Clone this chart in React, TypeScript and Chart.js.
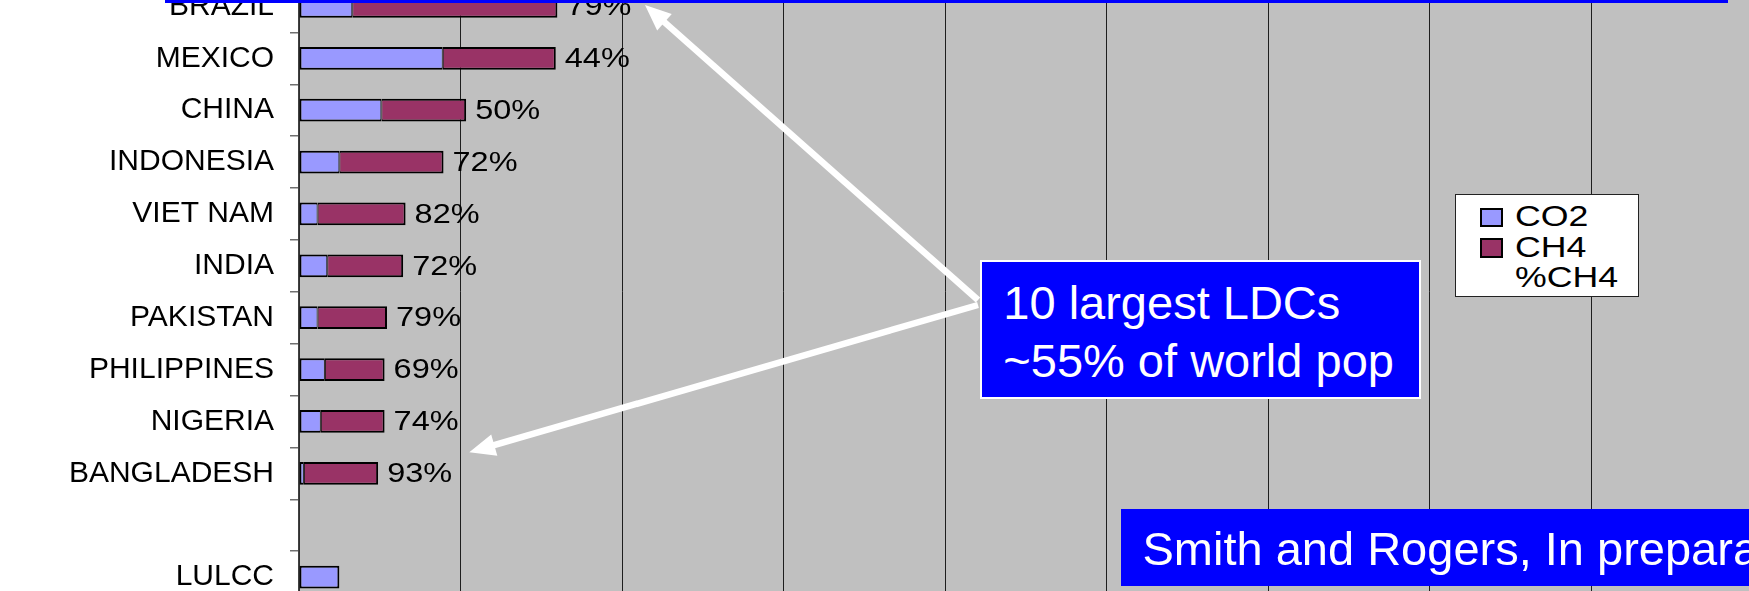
import React, { useEffect, useRef } from 'react';
import { Chart, registerables } from 'chart.js';

Chart.register(...registerables);

// ---- data ----
const categories = ['BRAZIL', 'MEXICO', 'CHINA', 'INDONESIA', 'VIET NAM', 'INDIA', 'PAKISTAN', 'PHILIPPINES', 'NIGERIA', 'BANGLADESH', '', 'LULCC'];
const co2Values = [33, 89, 51, 25, 11.5, 17.5, 11.5, 16, 13.5, 3, null, 25];
const ch4Values = [127, 70, 52.5, 64.5, 54.5, 47, 43, 37, 39.5, 46, null, null];
const pctCH4 = [79, 44, 50, 72, 82, 72, 79, 69, 74, 93, null, null];
const xMin = 0;
const xMax = 900;
const xStep = 100;

const FONT = '"Liberation Sans", Arial, Helvetica, sans-serif';

const plotBgPlugin = {
  id: 'plotBg',
  beforeDraw(chart: any) {
    const { ctx, chartArea: a } = chart;
    ctx.save();
    ctx.fillStyle = '#C0C0C0';
    ctx.fillRect(a.left, a.top, a.right - a.left, a.bottom - a.top);
    ctx.restore();
  },
};

const pctLabelPlugin = {
  id: 'pctLabels',
  afterDatasetsDraw(chart: any) {
    const { ctx } = chart;
    const xs = chart.scales.x;
    const ys = chart.scales.y;
    ctx.save();
    ctx.fillStyle = '#000';
    ctx.font = `28px ${FONT}`;
    ctx.textAlign = 'left';
    ctx.textBaseline = 'middle';
    pctCH4.forEach((p, i) => {
      if (p == null) return;
      const total = (co2Values[i] || 0) + (ch4Values[i] || 0);
      const x = xs.getPixelForValue(total) + 9;
      const y = ys.getPixelForValue(i);
      ctx.save();
      ctx.translate(x, y + 1);
      ctx.scale(1.16, 1);
      ctx.fillText(`${p}%`, 0, 0);
      ctx.restore();
    });
    ctx.restore();
  },
};

function arrowHead(x1: number, y1: number, x2: number, y2: number, len = 26, half = 11) {
  const dx = x2 - x1;
  const dy = y2 - y1;
  const L = Math.hypot(dx, dy);
  const ux = dx / L;
  const uy = dy / L;
  const bx = x2 - ux * len;
  const by = y2 - uy * len;
  const px = -uy * half;
  const py = ux * half;
  return {
    line: { x1, y1, x2: bx + ux * 2, y2: by + uy * 2 },
    pts: `${x2},${y2} ${bx + px},${by + py} ${bx - px},${by - py}`,
  };
}

export default function App() {
  const canvasRef = useRef<HTMLCanvasElement | null>(null);

  useEffect(() => {
    if (!canvasRef.current) return;
    const chart = new Chart(canvasRef.current, {
      type: 'bar',
      data: {
        labels: categories,
        datasets: [
          {
            label: 'CO2',
            data: co2Values,
            backgroundColor: '#9999FF',
            borderColor: '#000000',
            borderSkipped: false,
            borderWidth: (c: any) => ({ top: 2, bottom: 2, left: 2, right: ch4Values[c.dataIndex] == null ? 2 : 1 }),
            barPercentage: 0.438,
            categoryPercentage: 1,
          },
          {
            label: 'CH4',
            data: ch4Values,
            backgroundColor: '#993366',
            borderColor: '#000000',
            borderSkipped: false,
            borderWidth: { top: 2, bottom: 2, left: 1, right: 2 },
            barPercentage: 0.438,
            categoryPercentage: 1,
          },
        ],
      } as any,
      options: {
        indexAxis: 'y',
        animation: false,
        responsive: false,
        devicePixelRatio: 1,
        layout: { padding: { top: 8.5, bottom: 9, left: 0, right: 47.5 } },
        plugins: { legend: { display: false }, tooltip: { enabled: false } },
        scales: {
          x: {
            stacked: true,
            min: xMin,
            max: xMax,
            ticks: { display: false, stepSize: xStep },
            grid: { color: '#1e1e1e', lineWidth: 1, drawTicks: false },
            border: { display: false },
            afterFit: (s: any) => { s.height = 0; s.paddingLeft = 0; s.paddingRight = 0; },
          },
          y: {
            stacked: true,
            ticks: { color: '#000', font: { family: FONT, size: 30 }, padding: 16, autoSkip: false },
            grid: { drawOnChartArea: false, drawTicks: true, tickLength: 9, color: '#707070', lineWidth: 1.5, offset: true },
            border: { display: true, color: '#404040', width: 1.5 },
            afterFit: (s: any) => { s.width = 299; s.paddingTop = 0; s.paddingBottom = 0; },
          },
        },
      } as any,
      plugins: [plotBgPlugin, pctLabelPlugin],
    });
    return () => chart.destroy();
  }, []);

  const a1 = arrowHead(978, 300, 645, 5);
  const a2 = arrowHead(978, 305, 469.3, 452.3);

  const legendText: React.CSSProperties = {
    position: 'absolute',
    fontFamily: FONT,
    fontSize: 29,
    lineHeight: '29px',
    color: '#000',
    whiteSpace: 'nowrap',
    transform: 'scaleX(1.23)',
    transformOrigin: 'left center',
  };

  return (
    <div style={{ position: 'fixed', left: 0, top: 0, width: 1749, height: 591, overflow: 'hidden', background: '#fff' }}>
      <canvas ref={canvasRef} width={1800} height={640} style={{ position: 'absolute', left: 0, top: -28.5, width: 1800, height: 640 }} />
      <svg width={1749} height={591} style={{ position: 'absolute', left: 0, top: 0 }}>
        <line {...a1.line} stroke="#fff" strokeWidth={6.5} />
        <polygon points={a1.pts} fill="#fff" />
        <line {...a2.line} stroke="#fff" strokeWidth={6.5} />
        <polygon points={a2.pts} fill="#fff" />
      </svg>
      {/* legend */}
      <div style={{ position: 'absolute', left: 1455, top: 194, width: 184, height: 103, boxSizing: 'border-box', border: '1.5px solid #222', background: '#fff' }} />
      <div style={{ position: 'absolute', left: 1480, top: 207.5, width: 22.5, height: 19.5, boxSizing: 'border-box', border: '2px solid #000', background: '#9999FF' }} />
      <div style={{ position: 'absolute', left: 1480, top: 238, width: 22.5, height: 19.5, boxSizing: 'border-box', border: '2px solid #000', background: '#993366' }} />
      <div style={{ ...legendText, left: 1515, top: 202.2 }}>CO2</div>
      <div style={{ ...legendText, left: 1515, top: 233.2 }}>CH4</div>
      <div style={{ ...legendText, left: 1515, top: 262.5 }}>%CH4</div>
      {/* callout box */}
      <div style={{ position: 'absolute', left: 980, top: 260, width: 441, height: 138.5, boxSizing: 'border-box', border: '2.5px solid #fff', background: '#0000FF' }} />
      <div style={{ position: 'absolute', left: 1003.3, top: 278.5, fontFamily: FONT, fontSize: 47, lineHeight: '47px', color: '#fff', whiteSpace: 'nowrap' }}>10 largest LDCs</div>
      <div style={{ position: 'absolute', left: 1003.3, top: 336.9, fontFamily: FONT, fontSize: 47, lineHeight: '47px', color: '#fff', whiteSpace: 'nowrap' }}>~55% of world pop</div>
      {/* citation box */}
      <div style={{ position: 'absolute', left: 1120.7, top: 509, width: 700, height: 76.7, background: '#0000FF' }} />
      <div style={{ position: 'absolute', left: 1142.5, top: 525.2, fontFamily: FONT, fontSize: 47, lineHeight: '47px', color: '#fff', whiteSpace: 'nowrap' }}>Smith and Rogers, In preparation</div>
      {/* top blue rule */}
      <div style={{ position: 'absolute', left: 165, top: 0, width: 1563, height: 3, background: '#0000FF' }} />
    </div>
  );
}
